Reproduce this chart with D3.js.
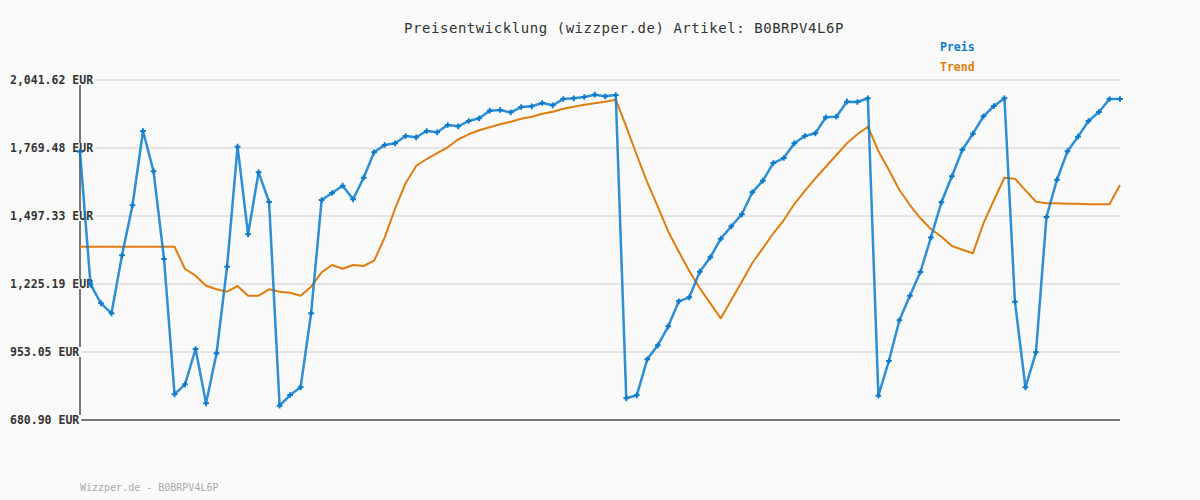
<!DOCTYPE html>
<html>
<head>
<meta charset="utf-8">
<script src="https://cdn.jsdelivr.net/npm/d3@7"></script>
<style>
  html, body { margin: 0; padding: 0; background: #fafafa; }
  svg { display: block; }
</style>
</head>
<body>
<svg id="chart" width="1200" height="500"></svg>
<script>
const titleText = "Preisentwicklung (wizzper.de) Artikel: B0BRPV4L6P";
const footerText = "Wizzper.de - B0BRPV4L6P";
const seriesNames = ["Preis", "Trend"];
const yTicks = [680.90, 953.05, 1225.19, 1497.33, 1769.48, 2041.62];

const preis = [
  1754.7, 1224.0, 1147.9, 1107.9, 1340.0, 1540.1, 1837.5, 1676.2, 1325.2, 783.7,
  823.8, 965.0, 747.7, 947.8, 1294.4, 1774.7, 1424.1, 1672.2, 1553.3, 738.1,
  780.9, 811.8, 1107.9, 1561.3, 1589.4, 1618.6, 1564.1, 1650.6, 1752.2, 1781.5,
  1788.3, 1817.5, 1812.3, 1837.5, 1832.3, 1861.5, 1856.3, 1877.5, 1888.3, 1918.7,
  1921.5, 1912.3, 1933.5, 1936.3, 1949.6, 1940.3, 1965.6, 1968.4, 1973.6, 1982.8,
  1976.4, 1981.6, 767.7, 779.7, 923.8, 979.8, 1055.9, 1155.9, 1171.9, 1274.4,
  1332.0, 1406.5, 1456.1, 1504.1, 1592.2, 1638.6, 1709.4, 1729.4, 1788.3, 1817.5,
  1828.3, 1892.3, 1894.7, 1954.8, 1953.6, 1968.4, 778.1, 917.0, 1079.9, 1178.3,
  1273.2, 1411.3, 1552.1, 1656.2, 1762.7, 1826.7, 1896.3, 1937.5, 1968.4, 1154.3,
  811.8, 951.8, 1493.3, 1642.6, 1756.2, 1814.7, 1877.5, 1913.5, 1965.6, 1965.6
];

const trend = [
  1374.4, 1374.4, 1374.4, 1374.4, 1374.4, 1374.4, 1374.4, 1374.4, 1374.4, 1374.4,
  1285.2, 1258.4, 1218.4, 1204.0, 1194.4, 1217.2, 1178.3, 1178.3, 1204.0, 1194.4,
  1190.3, 1178.3, 1214.4, 1272.0, 1301.2, 1286.4, 1301.2, 1297.2, 1318.4, 1410.5,
  1528.1, 1629.4, 1697.4, 1725.4, 1749.4, 1772.3, 1804.3, 1824.3, 1840.3, 1852.3,
  1864.3, 1874.7, 1886.7, 1894.7, 1906.7, 1914.7, 1926.7, 1934.7, 1942.7, 1948.4,
  1954.8, 1962.8, 1854.7, 1741.4, 1632.2, 1534.5, 1434.5, 1354.4, 1277.2, 1208.0,
  1147.9, 1087.9, 1161.1, 1234.4, 1309.2, 1368.0, 1428.1, 1481.3, 1545.3, 1597.4,
  1648.2, 1694.6, 1741.4, 1788.3, 1824.3, 1854.7, 1757.4, 1681.4, 1601.4, 1541.3,
  1488.1, 1445.3, 1414.5, 1377.2, 1362.4, 1348.0, 1468.1, 1561.3, 1650.6, 1646.6,
  1600.2, 1554.5, 1548.1, 1548.1, 1546.5, 1546.5, 1544.1, 1544.1, 1544.1, 1621.4
];

(function () {
  const colors = { preis: "#0a7bcc", trend: "#e07d10" };
  const mono = "'DejaVu Sans Mono', monospace";

  const svg = d3.select("#chart");
  const W = 1200, H = 500;
  const pLeft = 80, pRight = 1120, pTop = 80, pBottom = 420;

  svg.append("rect").attr("width", W).attr("height", H).attr("fill", "#fafafa");

  const x = d3.scaleLinear().domain([0, preis.length - 1]).range([pLeft, pRight]);
  const y = d3.scaleLinear().domain([yTicks[0], yTicks[yTicks.length - 1]]).range([pBottom, pTop]);

  // gridlines
  svg.append("g").selectAll("line").data(yTicks).join("line")
    .attr("x1", 10).attr("x2", pRight)
    .attr("y1", d => y(d)).attr("y2", d => y(d))
    .attr("stroke", "#e4e4e4").attr("stroke-width", 2);

  // axis lines
  svg.append("line").attr("x1", pLeft).attr("x2", pLeft).attr("y1", pTop).attr("y2", pBottom + 1)
    .attr("stroke", "#777").attr("stroke-width", 2);
  svg.append("line").attr("x1", pLeft - 1).attr("x2", pRight).attr("y1", pBottom).attr("y2", pBottom)
    .attr("stroke", "#777").attr("stroke-width", 2);

  // y labels with background
  const fmt = d3.format(",.2f");
  const lab = svg.append("g").selectAll("g").data(yTicks).join("g")
    .attr("transform", d => `translate(10,${y(d)})`);
  lab.each(function (d) {
    const g = d3.select(this);
    const t = g.append("text")
      .attr("x", 0).attr("y", 0).attr("dy", "0.35em")
      .attr("font-family", mono).attr("font-size", 11.5).attr("font-weight", "bold")
      .attr("fill", "#333")
      .text(fmt(d) + " EUR");
    const bb = t.node().getBBox();
    g.insert("rect", "text").attr("x", bb.x - 1).attr("y", -5).attr("width", bb.width + 3).attr("height", 10)
      .attr("fill", "#fafafa");
  });

  // trend line
  const line = d3.line().x((d, i) => x(i)).y(d => y(d));
  svg.append("path").datum(trend).attr("d", line)
    .attr("fill", "none").attr("stroke", colors.trend).attr("stroke-width", 2)
    .attr("stroke-linejoin", "round");

  // price line
  svg.append("path").datum(preis).attr("d", line)
    .attr("fill", "none").attr("stroke", colors.preis).attr("stroke-width", 2.5)
    .attr("stroke-opacity", 0.85).attr("stroke-linejoin", "round");

  // markers
  const cross = d3.symbol().type(d3.symbolCross).size(18);
  svg.append("g").selectAll("path").data(preis).join("path")
    .attr("d", cross)
    .attr("transform", (d, i) => `translate(${x(i)},${y(d)})`)
    .attr("fill", colors.preis);

  // title
  svg.append("text").attr("x", 624).attr("y", 33).attr("text-anchor", "middle")
    .attr("font-family", mono).attr("font-size", 14).attr("letter-spacing", 0.55)
    .attr("fill", "#333").text(titleText);

  // legend
  svg.append("g").selectAll("text").data(seriesNames).join("text")
    .attr("x", 940).attr("y", (d, i) => 51 + i * 20)
    .attr("font-family", mono).attr("font-size", 11.5).attr("font-weight", "bold")
    .attr("fill", (d, i) => i === 0 ? colors.preis : colors.trend)
    .text(d => d);

  // footer
  svg.append("text").attr("x", 80).attr("y", 491)
    .attr("font-family", mono).attr("font-size", 10)
    .attr("fill", "#aaa").text(footerText);
})();
</script>
</body>
</html>
